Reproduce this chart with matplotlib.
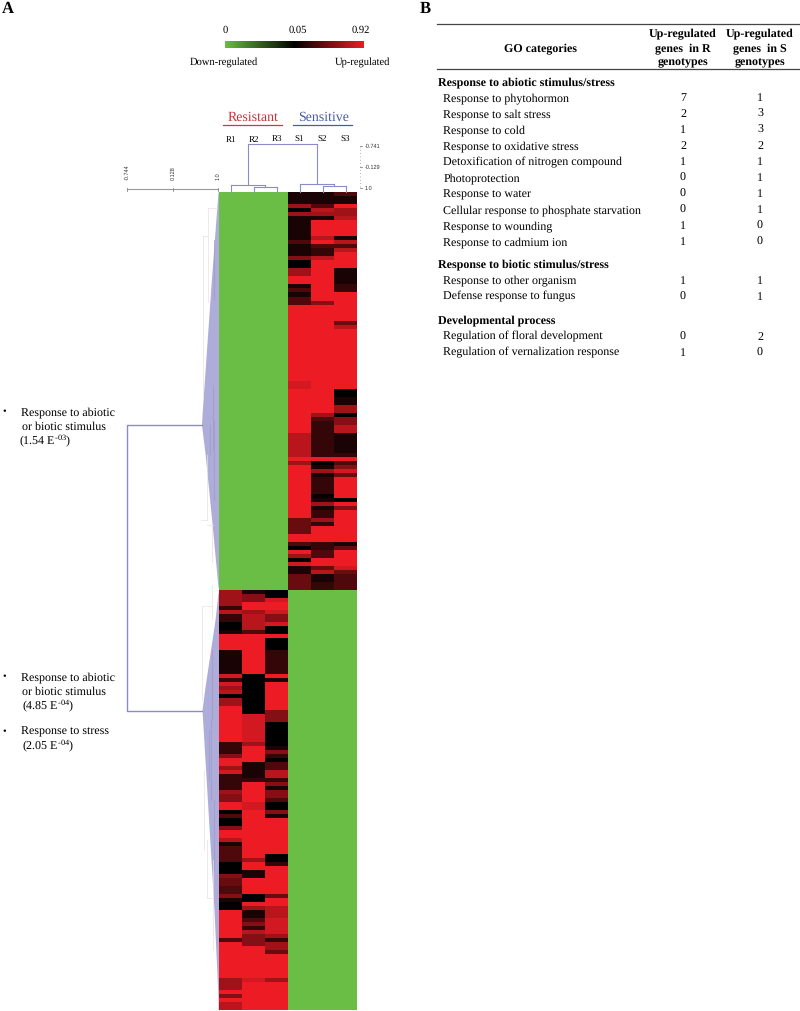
import matplotlib
matplotlib.use('Agg')
import matplotlib.pyplot as plt
from matplotlib.colors import LinearSegmentedColormap
import numpy as np

plt.rcParams['font.family'] = ['Liberation Serif', 'DejaVu Serif']
plt.rcParams['mathtext.fontset'] = 'custom'
plt.rcParams['mathtext.rm'] = 'Liberation Serif'
plt.rcParams['text.hinting'] = 'no_hinting'

W, H = 800, 1011

# heatmap rows, one digit per gene: 0 = black (0.05) ... 9 = full red (0.92)
s1 = "1116061111 1131115006 6991313399 9999999999 9999999889 9999999999 7777779699 9999999999 9444499309 608114444"
s2 = "1113761999 9793227999 9999999599 9999999999 9999999999 9999963222 2222229016 1222201612 2629999223 399471122"
s3 = "3119667999 9173799991 1112299999 9947999999 9999999990 0116605577 1111129358 4999990959 9999999149 999843333"
r1 = "6666272200 1999911111 1828670669 9999999922 2599682222 6559903005 9971333300 0544335100 9999999399 9999999666 95977"
r2 = "1559967777 3999999999 9000000000 0888888869 9991111299 9998899999 9999999699 1199990096 1135275559 9999999899 99999"
r3 = "0089985580 0900022222 2919999999 5550000001 5203377251 5530051999 9999990029 9999994997 7788886266 4999999699 99999"

# gene tree outline (height position, outer edge of the tree)
tree_top_y = [192, 218, 285, 415, 425, 453, 520, 587]
tree_top_x = [218, 216, 211, 202, 201.5, 205, 211.7, 218]
tree_low_y = [593, 620, 687, 710, 810, 910, 997, 1010]
tree_low_x = [218, 215, 205, 202, 208, 214, 218, 218]
# pale outer branches of the gene tree (x0, y0, x1, y1)
pale_branches = [(203, 236, 208, 236), (203, 236, 203, 400), (208, 208, 208, 302), (208, 208, 217, 208),
                 (201, 520, 207, 520), (207, 455, 207, 520), (207, 525, 213, 525), (212, 525, 212, 562),
                 (202, 606, 211, 606), (202, 606, 202, 700), (212, 585, 212, 618), (204, 770, 204, 850),
                 (207, 840, 207, 898), (207, 898, 213, 898), (213, 860, 213, 950)]
inner_branches = [(214, 240, 214, 300), (213, 385, 213, 450), (214, 420, 214, 500), (210, 425, 210, 455),
                  (212, 650, 212, 720), (211, 720, 211, 800), (209, 730, 209, 780), (214, 800, 214, 870)]

sample_names = ['R1', 'R2', 'R3', 'S1', 'S2', 'S3']
# sample tree merges: (left x, right x, height), x in column units
sample_merges = [(1.5, 2.5, 0.104), (0.5, 2.0, 0.14), (4.5, 5.5, 0.12), (3.5, 5.0, 0.16), (1.25, 4.25, 1.0)]
sample_drops = [(0.5, 0, 0.14), (1.5, 0, 0.104), (2.5, 0, 0.104), (3.5, 0, 0.16), (4.5, 0, 0.12), (5.5, 0, 0.12),
                (2.0, 0.104, 0.14), (5.0, 0.12, 0.16), (1.25, 0.14, 1.0), (4.25, 0.16, 1.0)]

go_header = ['GO categories', 'Up-regulated\ngenes  in R\ngenotypes', 'Up-regulated\ngenes  in S\ngenotypes']
group_names = ['Response to abiotic stimulus/stress', 'Response to biotic stimulus/stress', 'Developmental process']
group_terms = [['Response to phytohormon', 'Response to salt stress', 'Response to cold', 'Response to oxidative stress',
                'Detoxification of nitrogen compound', 'Photoprotection', 'Response to water',
                'Cellular response to phosphate starvation', 'Response to wounding', 'Response to cadmium ion'],
               ['Response to other organism', 'Defense response to fungus'],
               ['Regulation of floral development', 'Regulation of vernalization response']]
group_r = [[7, 2, 1, 2, 1, 0, 0, 0, 1, 1], [1, 0], [0, 1]]
group_s = [[1, 3, 3, 2, 1, 1, 1, 1, 0, 0], [1, 1], [2, 0]]
group_y = [81.7, 264.3, 320.3]

cm = LinearSegmentedColormap.from_list('gbr', ['#6abd45', '#000000', '#ed1c24'])
tree_col = '#aeacd8'
line_col = '#8c8cc8'


def pixel_axes(x0, y0, x1, y1):
    a = fig.add_axes([x0 / W, 1 - y1 / H, (x1 - x0) / W, (y1 - y0) / H])
    a.set_axis_off()
    return a


def levels(text):
    return np.array([0.5 + int(c) / 18.0 for c in text.replace(' ', '')])


def label(x, y, s, **kw):
    # baseline placement, so digits in one row line up
    kw.setdefault('ha', 'left')
    kw.setdefault('fontsize', 8.65)
    ax.text(x, y + 0.46 * kw['fontsize'], s, va='baseline', **kw)


fig = plt.figure(figsize=(W / 100, H / 100), dpi=100)
ax = fig.add_axes([0, 0, 1, 1])
ax.set_xlim(0, W)
ax.set_ylim(H, 0)
ax.set_axis_off()

# heatmap, the two gene blocks
upper = np.column_stack([levels(s1), levels(s2), levels(s3)])
upper = np.hstack([np.zeros_like(upper), upper])
lower = np.column_stack([levels(r1), levels(r2), levels(r3)])
lower = np.hstack([lower, np.zeros_like(lower)])
a_up = pixel_axes(219, 192, 357, 590)
a_up.imshow(upper, cmap=cm, vmin=0, vmax=1, aspect='auto', interpolation='nearest')
a_low = pixel_axes(219, 590, 357, 1010)
a_low.imshow(lower, cmap=cm, vmin=0, vmax=1, aspect='auto', interpolation='nearest')

# colour bar
a_bar = pixel_axes(224.5, 41.3, 362.7, 48.3)
a_bar.imshow(np.linspace(0, 1, 256).reshape(1, -1), cmap=cm, vmin=0, vmax=1, aspect='auto')
label(225, 29, '0', ha='center', fontsize=7.6)
label(297.7, 29, '0.05', ha='center', fontsize=7.6)
label(361, 29, '0.92', ha='center', fontsize=7.6)
label(190, 62, 'Down-regulated', fontsize=7.6)
label(390, 62, 'Up-regulated', ha='right', fontsize=7.6)

# group labels
label(253.5, 116, 'Resistant', ha='center', fontsize=10, color='#c8323c')
ax.plot([223, 282], [125, 125], color='#d8343c', lw=0.9)
label(323.5, 116, 'Sensitive', ha='center', fontsize=10, color='#4a5aa8')
ax.plot([293, 352], [125, 125], color='#4a5aa8', lw=0.9)

# sample tree
a_tree = pixel_axes(219, 144, 357, 192)
a_tree.set_xlim(0, 6)
a_tree.set_ylim(0, 1)
for x0, x1, h in sample_merges:
    a_tree.plot([x0, x1], [h, h], color=line_col, lw=0.8, clip_on=False)
for x, h0, h1 in sample_drops:
    a_tree.plot([x, x], [h0, h1], color=line_col, lw=0.8, clip_on=False)
for i, name in enumerate(sample_names):
    a_tree.text(i + 0.5, 1.08, name, ha='center', va='center', fontsize=6.5)

# scale bars next to the trees
ax.plot([360, 360], [146, 188], color='#999999', lw=0.6, ls=(0, (1, 3)))
for y, lab in zip([146, 167, 188], ['-0.741', '-0.129', '1.0']):
    ax.plot([360, 362], [y, y], color='#888888', lw=0.6)
    ax.text(365, y, lab, ha='left', va='center', fontsize=4, family='Liberation Sans', color='#333333')
ax.plot([127, 218], [189.3, 189.3], color='#999999', lw=0.8)
for x, lab in zip([127, 172.7, 218], ['-0.744', '0.128', '1.0']):
    ax.plot([x, x], [187.5, 191], color='#888888', lw=0.6)
    ax.text(x, 180, lab, ha='center', va='bottom', rotation=90, fontsize=4, family='Liberation Sans', color='#333333')

# gene tree
ax.fill_betweenx(tree_top_y, tree_top_x, 219, color=tree_col, lw=0)
ax.fill_betweenx(tree_low_y, tree_low_x, 219, color=tree_col, lw=0)
for x0, y0, x1, y1 in pale_branches:
    ax.plot([x0, x1], [y0, y1], color='#ecdfe4', lw=0.5)
for x0, y0, x1, y1 in inner_branches:
    ax.plot([x0, x1], [y0, y1], color='#9a9acb', lw=0.5)
ax.plot([202, 127, 127, 202], [425, 425, 710.5, 710.5], color=line_col, lw=1.0)

# enrichment notes
label(2, 411, '•', fontsize=7.5)
label(21, 411, 'Response to abiotic')
label(21.7, 425.5, 'or biotic stimulus')
label(19, 440, '(1.54 E$^{\\mathrm{\u201003}}$)')
label(2, 676, '•', fontsize=7.5)
label(21, 676, 'Response to abiotic')
label(21.7, 690.5, 'or biotic stimulus')
label(21.7, 705, '(4.85 E$^{\\mathrm{\u201004}}$)')
label(2, 730.5, '•', fontsize=7.5)
label(21, 730.5, 'Response to stress')
label(21.7, 745, '(2.05 E$^{\\mathrm{\u201004}}$)')

# panel letters
label(2, 7.5, 'A', fontsize=12, fontweight='bold')
label(420, 7.5, 'B', fontsize=12, fontweight='bold')

# table B
col_r, col_s = 683, 760
ax.plot([436.7, 799], [24.3, 24.3], color='#444444', lw=0.9)
ax.plot([436.7, 799], [69, 69], color='#444444', lw=0.9)
label(540.7, 47, go_header[0], ha='center', fontweight='bold')
for x, head in zip([col_r, col_s], go_header[1:]):
    for k, part in enumerate(head.split('\n')):
        label(x, 32.3 + k * 14.7, part, ha='center', fontweight='bold')
for name, terms, vals_r, vals_s, y0 in zip(group_names, group_terms, group_r, group_s, group_y):
    label(437.7, y0 - 0.7, name, fontweight='bold')
    for k, term in enumerate(terms):
        y = y0 - 0.7 + 16 * (k + 1)
        label(443.3, y, term)
        label(col_r, y, str(vals_r[k]), ha='center')
        label(col_s, y, str(vals_s[k]), ha='center')

fig.savefig('out.png', dpi=100)
